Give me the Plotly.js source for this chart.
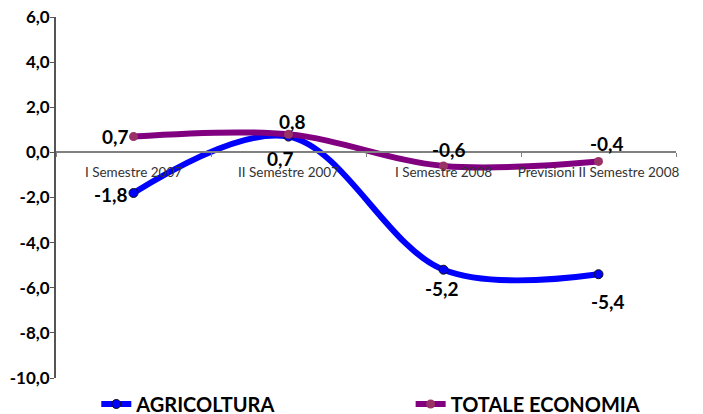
<!DOCTYPE html>
<html><head><meta charset="utf-8">
<script src="https://cdn.plot.ly/plotly-3.0.1.min.js"></script>
<style>html,body{margin:0;padding:0;background:#fff}#chart{width:703px;height:414px}</style>
</head><body><div id="chart"></div>
<script>
const categories = ["I Semestre 2007", "II Semestre 2007", "I Semestre 2008", "Previsioni II Semestre 2008"];
const agricoltura = [-1.8, 0.7, -5.2, -5.4];
const totaleEconomia = [0.7, 0.8, -0.6, -0.4];
const seriesNames = ["AGRICOLTURA", "TOTALE ECONOMIA"];
const yTickVals = [-10, -8, -6, -4, -2, 0, 2, 4, 6];

const fmt = v => v.toFixed(1).replace('.', ',');

const traces = [
  {x: categories, y: agricoltura, name: seriesNames[0], type: 'scatter', mode: 'lines+markers', legend: 'legend',
   line: {color: '#0000FF', width: 6, shape: 'spline', smoothing: 1}, marker: {color: '#0000FF', size: 9, line: {color: '#111', width: 1}}},
  {x: categories, y: totaleEconomia, name: seriesNames[1], type: 'scatter', mode: 'lines+markers', legend: 'legend2',
   line: {color: '#800080', width: 6, shape: 'spline', smoothing: 1}, marker: {color: '#993366', size: 9}}
];

const agriOff = [[-23, -2], [-8, -22], [-2, -19], [9, -27]];
const totOff = [[-18, 0], [4, 13], [5, 16], [8, 18]];
const annotations = [];
agricoltura.forEach((v, i) => annotations.push({x: categories[i], y: v, text: '<b>' + fmt(v) + '</b>', showarrow: false,
  xshift: agriOff[i][0], yshift: agriOff[i][1], font: {family: 'Lato, sans-serif', size: 19, color: '#000'}}));
totaleEconomia.forEach((v, i) => annotations.push({x: categories[i], y: v, text: '<b>' + fmt(v) + '</b>', showarrow: false,
  xshift: totOff[i][0], yshift: totOff[i][1], font: {family: 'Lato, sans-serif', size: 19, color: '#000'}}));

const legendFont = {family: 'Lato, sans-serif', size: 20, color: '#000', weight: 'bold'};
const layout = {
  width: 703, height: 414,
  margin: {l: 56, r: 27, t: 17, b: 36, autoexpand: false},
  paper_bgcolor: '#fff', plot_bgcolor: '#fff',
  showlegend: true,
  legend: {orientation: 'h', x: 0.065, y: -0.072, xanchor: 'left', yanchor: 'middle', itemwidth: 30, font: legendFont},
  legend2: {orientation: 'h', x: 0.572, y: -0.072, xanchor: 'left', yanchor: 'middle', itemwidth: 30, font: legendFont},
  xaxis: {type: 'category', anchor: 'free', position: 0.625, showline: true, linecolor: '#808080', linewidth: 2,
    ticks: 'outside', tickson: 'boundaries', ticklen: 4, tickcolor: '#808080', showgrid: false, zeroline: false,
    ticklabelstandoff: 7, automargin: false, tickangle: 0,
    range: [-0.5, 3.5], tickfont: {family: 'Lato, sans-serif', size: 13.5, color: '#333'}},
  yaxis: {range: [-10, 6], tickvals: yTickVals, ticktext: yTickVals.map(v => '<b>' + fmt(v) + '</b>'),
    showline: true, linecolor: '#555', linewidth: 2, ticks: 'outside', ticklen: 4, tickcolor: '#555', automargin: false,
    ticklabelstandoff: -3,
    showgrid: false, zeroline: false, tickfont: {family: 'Lato, sans-serif', size: 17, color: '#000'}},
  annotations: annotations
};

Plotly.newPlot('chart', traces, layout, {displayModeBar: false, staticPlot: true});
</script></body></html>
